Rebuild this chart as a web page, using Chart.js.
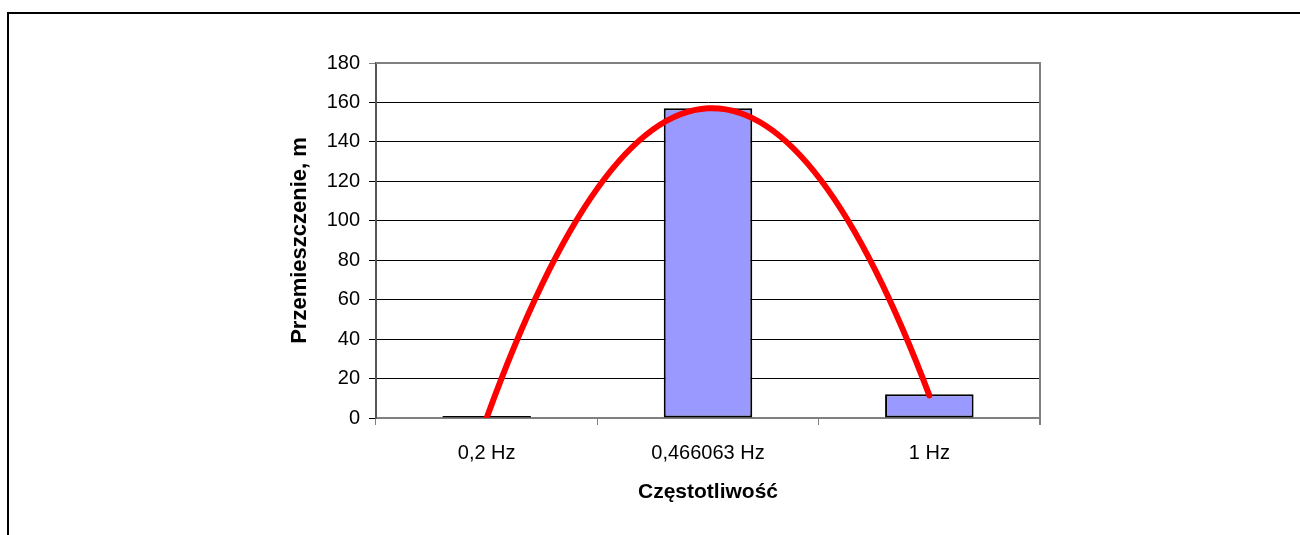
<!DOCTYPE html>
<html>
<head>
<meta charset="utf-8">
<script src="https://cdn.jsdelivr.net/npm/chart.js@4/dist/chart.umd.min.js"></script>
<style>
  html, body { margin: 0; padding: 0; background: #fff; }
  #wrap { width: 1300px; height: 535px; }
</style>
</head>
<body>
<div id="wrap"><canvas id="chart" width="1300" height="535"></canvas></div>
<script>
const categories = ['0,2 Hz', '0,466063 Hz', '1 Hz'];
const barValues = [1, 157, 12];
const curveValues = [0, 157, 11.5];
const yTicks = [0, 20, 40, 60, 80, 100, 120, 140, 160, 180];

// Excel-like smoothing: through 3 points it comes out as a parabola,
// so set the bezier handles from the neighbouring points
const smoothPlugin = {
  id: 'smooth',
  beforeDatasetDraw(chart, args) {
    if (args.index !== 0) return;
    const line = args.meta.dataset;
    line.updateControlPoints(chart.chartArea);
    const p = args.meta.data;
    if (p.length !== 3) return;
    const [a, b, c] = p;
    a.cp2x = a.x + (-3 * a.x + 4 * b.x - c.x) / 6;
    a.cp2y = a.y + (-3 * a.y + 4 * b.y - c.y) / 6;
    b.cp1x = b.x - (c.x - a.x) / 6;
    b.cp1y = b.y - (c.y - a.y) / 6;
    b.cp2x = b.x + (c.x - a.x) / 6;
    b.cp2y = b.y + (c.y - a.y) / 6;
    c.cp1x = c.x - (3 * c.x - 4 * b.x + a.x) / 6;
    c.cp1y = c.y - (3 * c.y - 4 * b.y + a.y) / 6;
  }
};

// plot border (top/right) and the outer frame
const framePlugin = {
  id: 'frame',
  beforeDatasetsDraw(chart) {
    const { ctx, chartArea: a } = chart;
    ctx.save();
    ctx.strokeStyle = '#808080';
    ctx.lineWidth = 2;
    ctx.beginPath();
    ctx.moveTo(a.left, a.top);
    ctx.lineTo(a.right, a.top);
    ctx.lineTo(a.right, a.bottom + 7);
    ctx.stroke();
    ctx.restore();
  },
  afterDraw(chart) {
    const ctx = chart.ctx;
    ctx.save();
    ctx.strokeStyle = '#000';
    ctx.lineWidth = 2;
    ctx.beginPath();
    ctx.moveTo(8, 535);
    ctx.lineTo(8, 13);
    ctx.lineTo(1300, 13);
    ctx.stroke();
    ctx.restore();
  }
};

Chart.defaults.font.family = '"Liberation Sans", Arial, sans-serif';
Chart.defaults.color = '#000';

const ctx = document.getElementById('chart').getContext('2d');
new Chart(ctx, {
  type: 'bar',
  data: {
    labels: categories,
    datasets: [
      {
        type: 'line',
        data: curveValues,
        borderColor: '#ff0000',
        borderWidth: 6,
        pointRadius: 0,
        tension: 0.33,
        borderCapStyle: 'round',
        order: 0
      },
      {
        data: barValues,
        backgroundColor: '#9999ff',
        borderColor: '#000',
        borderWidth: 2,
        borderSkipped: false,
        barPercentage: 0.4,
        categoryPercentage: 1,
        order: 1
      }
    ]
  },
  options: {
    responsive: false,
    animation: false,
    layout: { padding: { left: 287, right: 260, top: 63, bottom: 30 } },
    plugins: { legend: { display: false }, tooltip: { enabled: false } },
    scales: {
      x: {
        afterFit(scale) { scale.height = 87; },
        grid: { drawOnChartArea: false, tickLength: 7, color: '#808080', offset: true },
        border: { color: '#808080', width: 2 },
        ticks: { padding: 16, font: { size: 20 } },
        title: { display: true, text: 'Częstotliwość', font: { size: 21, weight: 'bold' }, padding: { top: 0, bottom: 0 } }
      },
      y: {
        min: 0,
        max: 180,
        afterFit(scale) { scale.width = 89; },
        afterBuildTicks(scale) { scale.ticks = yTicks.map(v => ({ value: v })); },
        grid: {
          tickLength: 7,
          color: c => (c.tick && c.tick.value === 180) ? '#808080' : '#000',
          lineWidth: 1
        },
        border: { color: '#555', width: 2 },
        ticks: { padding: 9, font: { size: 20 } },
        title: { display: true, text: 'Przemieszczenie, m', font: { size: 22, weight: 'bold' }, padding: 0 }
      }
    }
  },
  plugins: [smoothPlugin, framePlugin]
});
</script>
</body>
</html>
